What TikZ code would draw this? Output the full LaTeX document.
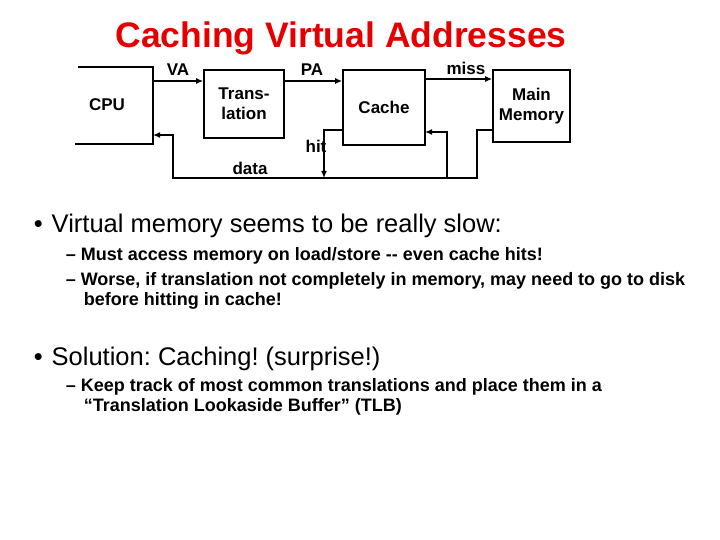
\documentclass[tikz,border=0pt]{standalone}
\usepackage{fontspec}
\setmainfont{Liberation Sans}
\usetikzlibrary{arrows.meta}
\frenchspacing
\begin{document}
\begin{tikzpicture}[x=1pt,y=-1pt,line width=1.6pt,>={Latex[length=7pt,width=6pt]},
  box/.style={draw,font=\bfseries\fontsize{17}{20}\selectfont,align=center,inner sep=0},
  lbl/.style={font=\bfseries\fontsize{17}{20}\selectfont},
  big/.style={anchor=base west,font=\fontsize{25.5}{30}\selectfont,inner sep=0},
  sub/.style={anchor=base west,font=\bfseries\fontsize{18}{22}\selectfont,inner sep=0,align=left}]
\useasboundingbox (0,0) rectangle (720,540);
\node[font=\bfseries\fontsize{35.5}{38}\selectfont,text=red!90!black] (title) at (341,38) {Caching Virtual Addresses};
% CPU
\coordinate (c1) at (78,67); \coordinate (c2) at (153,67);
\coordinate (c3) at (153,144); \coordinate (c4) at (75,144);
\draw (c1) -- (c2) -- (c3) -- (c4);
\node[lbl] (cpu) at (107,105) {CPU};
\node[box,minimum width=80,minimum height=68] (tr) at (244,104) {Trans-\\lation};
\node[box,minimum width=82,minimum height=75] (ca) at (384,107.5) {Cache};
\node[box,minimum width=77,minimum height=72] (mm) at (531.5,106) {Main\\Memory};
\coordinate (va) at (153,81);
\draw[->] (va) -- (tr.west |- va);
\coordinate (pa) at (284,81);
\draw[->] (pa) -- (ca.west |- pa);
\coordinate (mi) at (425,79);
\draw[->] (mi) -- (mm.west |- mi);
% data loop
\coordinate (m1) at (493,130); \coordinate (m2) at (477,130);
\coordinate (m3) at (477,178); \coordinate (m4) at (173,178);
\coordinate (m5) at (173,135); \coordinate (m6) at (153,135);
\draw[->] (m1) -- (m2) -- (m3) -- (m4) -- (m5) -- (m6);
\coordinate (k1) at (447,178); \coordinate (k2) at (447,132); \coordinate (k3) at (425,132);
\draw[->] (k1) -- (k2) -- (k3);
\coordinate (h1) at (343,130); \coordinate (h2) at (324,130); \coordinate (h3) at (324,178);
\draw[->] (h1) -- (h2) -- (h3);
\node[lbl] (lva) at (178,70) {VA};
\node[lbl] (lpa) at (312,70) {PA};
\node[lbl] (lmiss) at (466,68) {miss};
\node[lbl] (lhit) at (316,146) {hit};
\node[lbl] (ldata) at (250,168) {data};
% bullets
\node[big] (b1) at (33,233) {\textbullet\hspace{9pt}Virtual memory seems to be really slow:};
\node[sub] (s1) at (65,260) {–\hspace{5pt}Must access memory on load/store -{}- even cache hits!};
\node[sub] (s2) at (65,285) {–\hspace{5pt}Worse, if translation not completely in memory, may need to go to disk};
\node[sub] (s2b) at (83,305) {before hitting in cache!};
\node[big] (b2) at (33,365) {\textbullet\hspace{9pt}Solution: Caching! (surprise!)};
\node[sub] (s3) at (65,391) {–\hspace{5pt}Keep track of most common translations and place them in a};
\node[sub] (s3b) at (83,411) {“Translation Lookaside Buffer” (TLB)};
\end{tikzpicture}
\end{document}
